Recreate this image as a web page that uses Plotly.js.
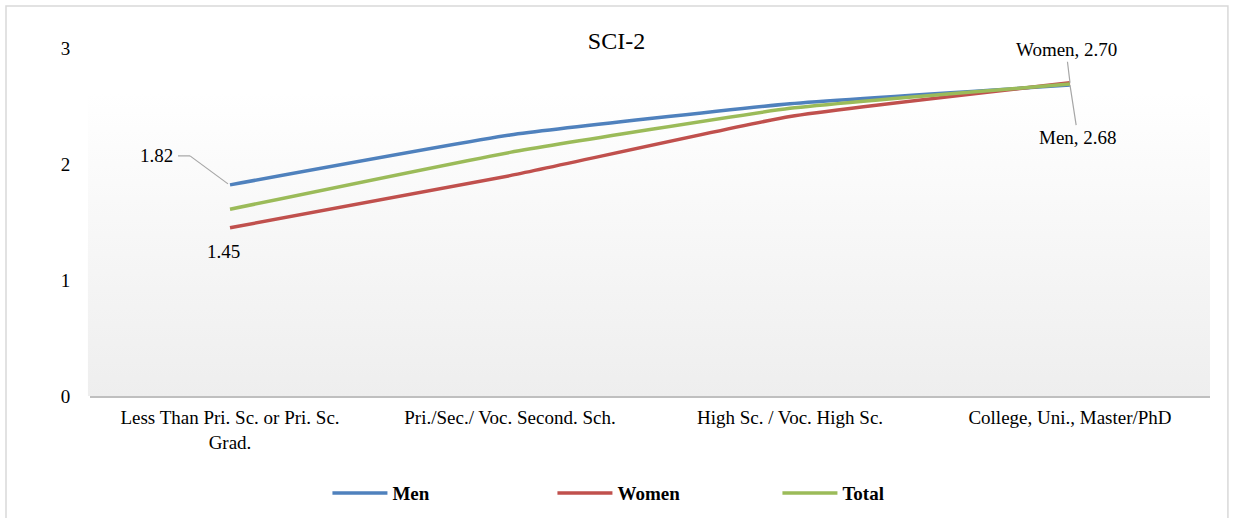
<!DOCTYPE html>
<html>
<head>
<meta charset="utf-8">
<script src="https://cdn.plot.ly/plotly-3.0.1.min.js"></script>
<style>html,body{margin:0;padding:0;background:#fff;}#chart{width:1233px;height:518px;}</style>
</head>
<body>
<div id="chart"></div>
<script>
const categories = ["Less Than Pri. Sc. or Pri. Sc.<br>Grad.", "Pri./Sec./ Voc. Second. Sch.", "High Sc. / Voc. High Sc.", "College, Uni., Master/PhD"];
const men = [1.82, 2.25, 2.52, 2.68];
const women = [1.45, 1.90, 2.41, 2.70];
const total = [1.61, 2.10, 2.48, 2.69];
const yTicks = [0, 1, 2, 3];

const FONT = "'Times New Roman', 'Liberation Serif', serif";
function tr(name, y, color) {
  return {x: categories, y: y, name: name, type: 'scatter', mode: 'lines',
    line: {color: color, width: 3.5, shape: 'spline', smoothing: 0.4}, hoverinfo: 'skip'};
}
const data = [tr('Men', men, '#4F81BD'), tr('Women', women, '#C0504D'), tr('Total', total, '#9BBB59')];

const grad = 'data:image/svg+xml;utf8,' + encodeURIComponent(
  '<svg xmlns="http://www.w3.org/2000/svg" width="100" height="100" preserveAspectRatio="none">' +
  '<defs><linearGradient id="g" x1="0" y1="0" x2="0" y2="1"><stop offset="0" stop-color="#ffffff"/><stop offset="1" stop-color="#eeeeee"/></linearGradient></defs>' +
  '<rect width="100" height="100" fill="url(#g)"/></svg>');

const leader = {color: '#a6a6a6', width: 1.2};
const layout = {
  width: 1233, height: 518,
  margin: {l: 90, r: 23, t: 48, b: 122, autoexpand: false},
  paper_bgcolor: '#ffffff', plot_bgcolor: 'rgba(0,0,0,0)',
  font: {family: FONT, size: 19, color: '#000'},
  title: {text: 'SCI-2', font: {family: FONT, size: 24, color: '#000'}, x: 0.5, xanchor: 'center', y: 0.922, yanchor: 'middle'},
  showlegend: true,
  legend: {orientation: 'h', x: 0.212, xanchor: 'left', yref: 'container', y: 0.048, yanchor: 'middle',
    font: {family: FONT, size: 19, color: '#000', weight: 'bold'}, entrywidth: 155, entrywidthmode: 'pixels', itemwidth: 55},
  xaxis: {type: 'category', showgrid: false, zeroline: false, showline: true, linecolor: '#bfbfbf', linewidth: 1.5,
    ticks: 'outside', ticklen: 4, tickcolor: 'rgba(0,0,0,0)', tickfont: {family: FONT, size: 19, color: '#000'},
    range: [-0.5, 3.5], fixedrange: true},
  yaxis: {range: [0, 3], tickvals: yTicks, ticktext: yTicks.map(String), showgrid: false, zeroline: false, showline: false,
    ticks: 'outside', ticklen: 15, tickcolor: 'rgba(0,0,0,0)', tickfont: {family: FONT, size: 19, color: '#000'}, fixedrange: true},
  images: [{source: grad, xref: 'paper', yref: 'paper', x: -0.002, y: 0.871, sizex: 1.002, sizey: 0.871,
    xanchor: 'left', yanchor: 'top', sizing: 'stretch', layer: 'below'}],
  shapes: [
    {type: 'rect', xref: 'paper', yref: 'paper', x0: -0.075, x1: 1.016, y0: -0.36, y1: 1.121,
      line: {color: '#d9d9d9', width: 1.5}, fillcolor: 'rgba(0,0,0,0)'},
    {type: 'line', xref: 'x', yref: 'y', xsizemode: 'pixel', ysizemode: 'pixel', xanchor: categories[0], yanchor: men[0],
      x0: -52, x1: -40, y0: 29, y1: 29, line: leader},
    {type: 'line', xref: 'x', yref: 'y', xsizemode: 'pixel', ysizemode: 'pixel', xanchor: categories[0], yanchor: men[0],
      x0: -40, x1: -2, y0: 29, y1: 1, line: leader}
  ],
  annotations: [
    {x: categories[0], y: men[0], text: men[0].toFixed(2), showarrow: false, xshift: -74, yshift: 29,
      font: {family: FONT, size: 19, color: '#000'}},
    {x: categories[0], y: women[0], text: women[0].toFixed(2), showarrow: false, yshift: -24, xshift: -7,
      font: {family: FONT, size: 19, color: '#000'}},
    {x: categories[3], y: women[3], text: 'Women, ' + women[3].toFixed(2), showarrow: true, arrowhead: 0, arrowwidth: 1.2, arrowcolor: '#a6a6a6',
      ax: -4, ay: -33, standoff: 0, font: {family: FONT, size: 19, color: '#000'}},
    {x: categories[3], y: men[3], text: 'Men, ' + men[3].toFixed(2), showarrow: true, arrowhead: 0, arrowwidth: 1.2, arrowcolor: '#a6a6a6',
      ax: 8, ay: 52, standoff: 0, font: {family: FONT, size: 19, color: '#000'}}
  ]
};
Plotly.newPlot('chart', data, layout, {displayModeBar: false, staticPlot: true});
</script>
</body>
</html>
